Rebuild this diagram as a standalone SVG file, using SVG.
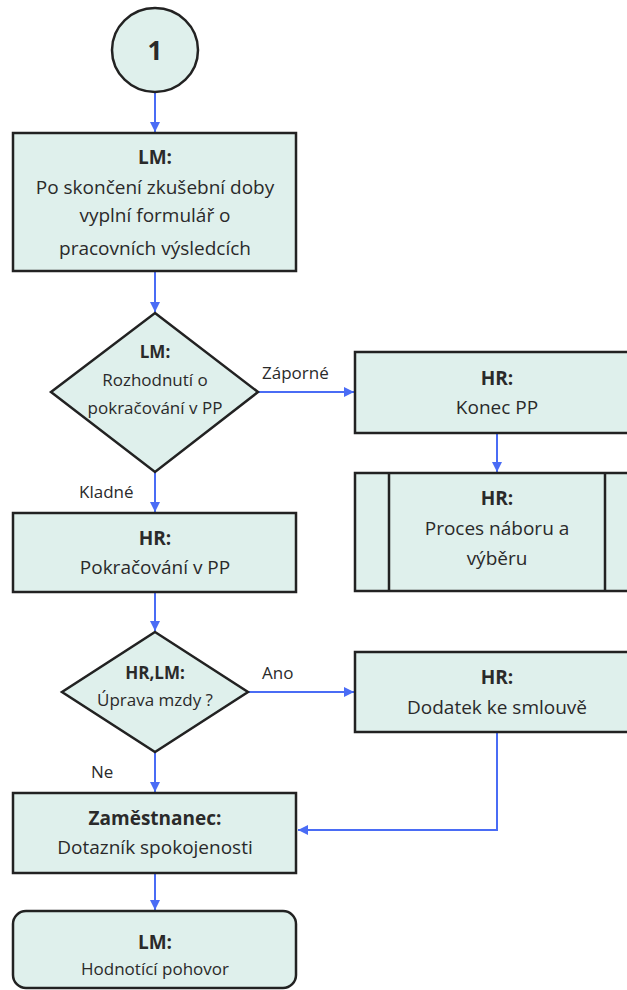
<svg xmlns="http://www.w3.org/2000/svg" width="627" height="990" viewBox="0 0 627 990">
<defs>
<marker id="ah" markerWidth="12" markerHeight="12" refX="10" refY="6" orient="auto" markerUnits="userSpaceOnUse">
<path d="M0,1 L10,6 L0,11 Z" fill="#4a6cf5"/>
</marker>
<style>
.n{fill:#dff0ec;stroke:#222;stroke-width:2.5}
.t{font-family:"Open Sans","Liberation Sans",sans-serif;font-size:19px;fill:#2a2a2a;text-anchor:middle}
.s{font-size:17px}
.b{font-weight:bold}
.c{fill:none;stroke:#4a6cf5;stroke-width:2;marker-end:url(#ah)}
.l{font-family:"Open Sans","Liberation Sans",sans-serif;font-size:17px;fill:#2a2a2a}
</style>
</defs>
<rect width="627" height="990" fill="#fff"/>
<g id="connectors">
<path class="c" d="M155,93 V132"/>
<path class="c" d="M155,271 V312"/>
<path class="c" d="M258,392 H354"/>
<path class="c" d="M497,433 V472"/>
<path class="c" d="M155,472 V512"/>
<path class="c" d="M155,592 V631"/>
<path class="c" d="M248,692 H354"/>
<path class="c" d="M497,732 V830 H298"/>
<path class="c" d="M155,752 V792"/>
<path class="c" d="M155,873 V910"/>
<text class="l" x="262" y="379">Záporné</text>
<text class="l" x="79" y="498">Kladné</text>
<text class="l" x="262" y="679">Ano</text>
<text class="l" x="91" y="778">Ne</text>
</g>
<g id="start">
<ellipse class="n" cx="155" cy="50" rx="43" ry="42"/>
<text class="t b" x="155" y="60" style="font-size:26px">1</text>
</g>
<g id="lm-form">
<rect class="n" x="13" y="133" width="283" height="138"/>
<text class="t b" x="155" y="164">LM:</text>
<text class="t" x="155" y="194">Po skončení zkušební doby</text>
<text class="t" x="155" y="222">vyplní formulář o</text>
<text class="t" x="155" y="255">pracovních výsledcích</text>
</g>
<g id="lm-decision">
<polygon class="n" points="155,313 258,392 155,472 51,392"/>
<text class="t b s" x="155" y="358">LM:</text>
<text class="t s" x="155" y="386">Rozhodnutí o</text>
<text class="t s" x="155" y="414">pokračování v PP</text>
</g>
<g id="hr-konec">
<rect class="n" x="355" y="352" width="290" height="81"/>
<text class="t b" x="497" y="385">HR:</text>
<text class="t" x="497" y="414">Konec PP</text>
</g>
<g id="hr-nabor">
<rect class="n" x="355" y="473" width="290" height="118"/>
<line x1="389" y1="473" x2="389" y2="591" stroke="#222" stroke-width="2.5"/>
<line x1="605" y1="473" x2="605" y2="591" stroke="#222" stroke-width="2.5"/>
<text class="t b" x="497" y="505">HR:</text>
<text class="t" x="497" y="535">Proces náboru a</text>
<text class="t" x="497" y="565">výběru</text>
</g>
<g id="hr-pokracovani">
<rect class="n" x="13" y="513" width="283" height="79"/>
<text class="t b" x="155" y="545">HR:</text>
<text class="t" x="155" y="574">Pokračování v PP</text>
</g>
<g id="mzda-decision">
<polygon class="n" points="155,632 248,692 155,752 62,692"/>
<text class="t b s" x="155" y="679">HR,LM:</text>
<text class="t s" x="155" y="706">Úprava mzdy ?</text>
</g>
<g id="hr-dodatek">
<rect class="n" x="355" y="652" width="290" height="80"/>
<text class="t b" x="497" y="684">HR:</text>
<text class="t" x="497" y="714">Dodatek ke smlouvě</text>
</g>
<g id="zamestnanec">
<rect class="n" x="13" y="793" width="283" height="80"/>
<text class="t b" x="155" y="825">Zaměstnanec:</text>
<text class="t" x="155" y="854">Dotazník spokojenosti</text>
</g>
<g id="lm-pohovor">
<rect class="n" x="13" y="911" width="283" height="77" rx="13" ry="13"/>
<text class="t b" x="155" y="949">LM:</text>
<text class="t s" x="155" y="975">Hodnotící pohovor</text>
</g>
</svg>
